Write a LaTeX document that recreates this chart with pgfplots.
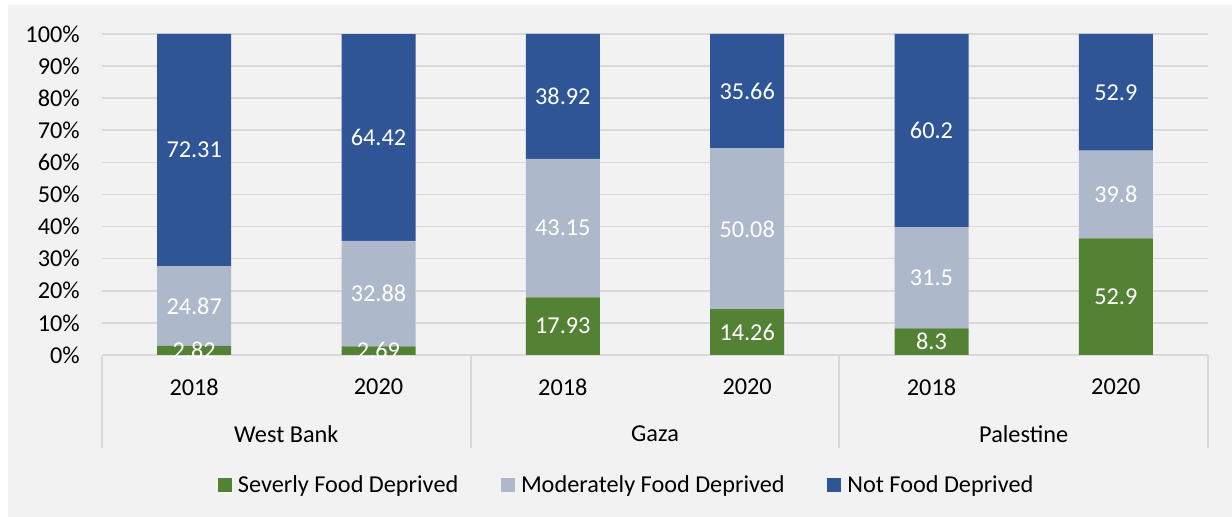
\documentclass[border=0pt]{standalone}
\usepackage{pgfplots}
\pgfplotsset{compat=1.18}
\usepackage{pgfplotstable}
\usepackage{fontspec}
\setmainfont{Carlito}
\definecolor{sev}{HTML}{548235}
\definecolor{mod}{HTML}{ADB9CA}
\definecolor{notd}{HTML}{2F5597}
\definecolor{bg}{HTML}{F2F2F2}
\definecolor{gridc}{HTML}{D9D9D9}
\newcommand{\chartfont}{\fontsize{18.2}{22}\selectfont}
\pgfplotsset{sqleg/.style={legend image code/.code={\fill[##1] (0pt,-5.25pt) rectangle (10.5pt,5.25pt); \path (13pt,0pt);}}}

\pgfplotstableread{
x sev mod notd
0 2.82 24.87 72.31
1 2.69 32.88 64.42
2 17.93 43.15 38.92
3 14.26 50.08 35.66
4 8.3 31.5 60.2
5 36.332 27.335 36.332
}\bars

\pgfplotstableread{
x y label
0 1.41 2.82
0 15.255 24.87
0 63.845 72.31
1 1.345 2.69
1 19.13 32.88
1 67.78 64.42
2 8.965 17.93
2 39.505 43.15
2 80.54 38.92
3 7.13 14.26
3 39.3 50.08
3 82.17 35.66
4 4.15 8.3
4 24.05 31.5
4 69.9 60.2
5 18.166 52.9
5 50.0 39.8
5 81.83 52.9
}\labs

\begin{document}
\begin{tikzpicture}[x=1pt,y=1pt,font=\chartfont]
\fill[white] (0,0) rectangle (924,387.75);
\fill[bg] (6,0) rectangle (924,384);
\path[use as bounding box] (0,0) rectangle (924,387.75);
\begin{axis}[
  at={(76.5pt,121.5pt)}, anchor=south west,
  width=829.5pt, height=240.75pt, scale only axis,
  ybar stacked, bar width=55.5pt,
  xmin=-0.5, xmax=5.5, ymin=0, ymax=100,
  xtick={0,...,5},
  xticklabels={2018,2020,2018,2020,2018,2020},
  ytick={0,10,...,100},
  yticklabels={0\%,10\%,20\%,30\%,40\%,50\%,60\%,70\%,80\%,90\%,100\%},
  ymajorgrids, grid style={gridc, line width=1.2pt},
  axis line style={draw=none},
  major tick length=0pt,
  tick label style={font=\chartfont},
  xticklabel style={anchor=center, yshift=-24pt},
  yticklabel style={anchor=east, inner sep=0pt, xshift=-16.5pt},
  clip=false,
  legend columns=3,
  legend style={at={(0.4747,-0.405)}, anchor=center, draw=none, fill=none,
    font=\chartfont,
    /tikz/every even column/.append style={column sep=30pt}},
]
\addplot[fill=sev, draw=none, sqleg] table[x=x,y=sev]{\bars};
\addplot[fill=mod, draw=none, sqleg] table[x=x,y=mod]{\bars};
\addplot[fill=notd, draw=none, sqleg] table[x=x,y=notd]{\bars};
\legend{Severly Food Deprived, Moderately Food Deprived, Not Food Deprived}
\draw[gridc, line width=1.5pt] (axis cs:-0.5,0) -- ++(0pt,-69.75pt);
\draw[gridc, line width=1.5pt] (axis cs:1.5,0) -- ++(0pt,-69.75pt);
\draw[gridc, line width=1.5pt] (axis cs:3.5,0) -- ++(0pt,-69.75pt);
\draw[gridc, line width=1.5pt] (axis cs:5.5,0) -- ++(0pt,-69.75pt);
\node[anchor=center] at ([yshift=-59.25pt]axis cs:0.5,0) {West Bank};
\node[anchor=center] at ([yshift=-59.25pt]axis cs:2.5,0) {Gaza};
\node[anchor=center] at ([yshift=-59.25pt]axis cs:4.5,0) {Palestine};
\end{axis}
\begin{axis}[
  at={(76.5pt,121.5pt)}, anchor=south west,
  width=829.5pt, height=240.75pt, scale only axis,
  xmin=-0.5, xmax=5.5, ymin=0, ymax=100,
  hide axis, clip=false,
]
\addplot[draw=none, mark=none, nodes near coords, point meta=explicit symbolic,
  every node near coord/.append style={anchor=center, text=white, font=\chartfont}]
  table[x=x,y=y,meta=label]{\labs};
\end{axis}
\end{tikzpicture}
\end{document}
